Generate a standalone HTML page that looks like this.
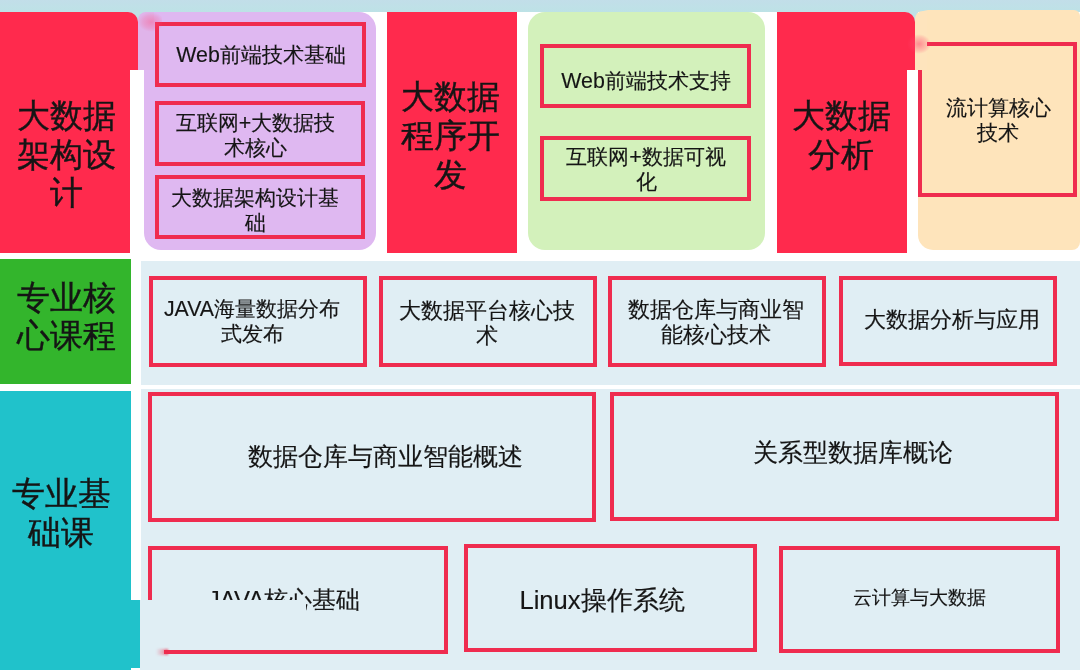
<!DOCTYPE html>
<html><head><meta charset="utf-8">
<style>
html,body{margin:0;padding:0;}
body{width:1080px;height:670px;position:relative;overflow:hidden;background:#ffffff;font-family:"Liberation Sans",sans-serif;color:#151515;}
.a{position:absolute;box-sizing:border-box;}
.red{background:#ff2a4d;}
.bx{position:absolute;box-sizing:border-box;border:4px solid #ef2c4f;}
.t{position:absolute;white-space:nowrap;text-align:center;width:400px;-webkit-text-stroke:0.15px #151515;}
.b{-webkit-text-stroke:0.4px #151515;}
</style></head><body><div id="w" style="position:absolute;left:0;top:0;width:1080px;height:670px;filter:blur(0.35px)">
<!-- top strip -->
<div class="a" style="left:0;top:0;width:1080px;height:12px;background:linear-gradient(#c2dee9,#bde2e6)"></div>

<!-- ROW 1 -->
<div class="a red" style="left:0;top:12px;width:130px;height:241px"></div>
<div class="a" style="left:144px;top:12px;width:232px;height:238px;background:#dfb8f1;border-radius:6px 17px 17px 17px"></div>
<div class="bx" style="left:155px;top:22px;width:211px;height:65px"></div>
<div class="bx" style="left:155px;top:101px;width:210px;height:65px"></div>
<div class="bx" style="left:155px;top:175px;width:210px;height:64px"></div>

<div class="a red" style="left:387px;top:12px;width:130px;height:241px"></div>
<div class="a" style="left:528px;top:12px;width:237px;height:238px;background:#d3f1bb;border-radius:17px"></div>
<div class="bx" style="left:540px;top:44px;width:211px;height:64px"></div>
<div class="bx" style="left:540px;top:136px;width:211px;height:65px"></div>

<div class="a red" style="left:777px;top:12px;width:130px;height:241px"></div>
<div class="a" style="left:918px;top:10px;width:162px;height:240px;background:#fee4bb;border-radius:10px 6px 8px 15px"></div>
<div class="bx" style="left:918px;top:42px;width:159px;height:155px"></div>

<!-- ROW 2 -->
<div class="a" style="left:0;top:259px;width:131px;height:125px;background:#33b52c"></div>
<div class="a" style="left:141px;top:261px;width:939px;height:124px;background:#e0eef4"></div>
<div class="bx" style="left:149px;top:276px;width:218px;height:91px"></div>
<div class="bx" style="left:379px;top:276px;width:218px;height:91px"></div>
<div class="bx" style="left:608px;top:276px;width:218px;height:91px"></div>
<div class="bx" style="left:839px;top:276px;width:218px;height:90px"></div>

<!-- ROW 3 -->
<div class="a" style="left:0;top:391px;width:131px;height:279px;background:#20c2cb"></div>
<div class="a" style="left:141px;top:389px;width:939px;height:281px;background:#e0eef4"></div>
<div class="bx" style="left:148px;top:392px;width:448px;height:130px"></div>
<div class="bx" style="left:610px;top:392px;width:449px;height:129px"></div>
<div class="bx" style="left:148px;top:546px;width:300px;height:108px"></div>
<div class="bx" style="left:464px;top:544px;width:293px;height:108px"></div>
<div class="bx" style="left:779px;top:546px;width:281px;height:107px"></div>

<!-- TEXT -->
<div class="t b" style="left:-134px;top:97px;font-size:32.5px;line-height:38.5px">大数据<br>架构设<br>计</div>
<div class="t" style="left:61px;top:43px;font-size:21.4px;line-height:25px">Web前端技术基础</div>
<div class="t" style="left:55.5px;top:110.5px;font-size:21.4px;line-height:25px">互联网+大数据技<br>术核心</div>
<div class="t" style="left:55px;top:186px;font-size:21.4px;line-height:25px">大数据架构设计基<br>础</div>

<div class="t b" style="left:250px;top:78px;font-size:32.5px;line-height:39px">大数据<br>程序开<br>发</div>
<div class="t" style="left:446px;top:68.5px;font-size:21.4px;line-height:25px">Web前端技术支持</div>
<div class="t" style="left:446px;top:144.5px;font-size:21.4px;line-height:25px">互联网+数据可视<br>化</div>

<div class="t b" style="left:641px;top:97px;font-size:32.5px;line-height:39px">大数据<br>分析</div>
<div class="t" style="left:798px;top:96px;font-size:21.4px;line-height:25px">流计算核心<br>技术</div>

<div class="t b" style="left:-133.5px;top:278.5px;font-size:32.5px;line-height:38.5px">专业核<br>心课程</div>
<div class="t" style="left:52px;top:297px;font-size:21.3px;line-height:25px">JAVA海量数据分布<br>式发布</div>
<div class="t" style="left:287px;top:297.5px;font-size:21.6px;line-height:25px">大数据平台核心技<br>术</div>
<div class="t" style="left:516px;top:297px;font-size:21.6px;line-height:25px">数据仓库与商业智<br>能核心技术</div>
<div class="t" style="left:752px;top:307px;font-size:21.6px;line-height:25px">大数据分析与应用</div>

<div class="t b" style="left:-139px;top:475px;font-size:32.5px;line-height:38.5px">专业基<br>础课</div>
<div class="t" style="left:185px;top:441px;font-size:25.2px;line-height:30px">数据仓库与商业智能概述</div>
<div class="t" style="left:653px;top:437px;font-size:25.4px;line-height:30px">关系型数据库概论</div>
<div class="t" style="left:84px;top:585px;font-size:24px;line-height:30px">JAVA核心基础</div>
<div class="t" style="left:402px;top:585px;font-size:25.6px;line-height:30px">Linux操作系统</div>
<div class="t" style="left:719px;top:585.5px;font-size:18.5px;line-height:24px">云计算与大数据</div>

<!-- watermark-removal artifacts -->
<div class="a" style="left:125px;top:10px;width:25px;height:14px;background:#bfe0e6"></div>
<div class="a" style="left:905px;top:10px;width:13px;height:14px;background:#bfe0e6"></div>
<div class="a red" style="left:0;top:12px;width:138px;height:58px;border-top-right-radius:10px"></div>
<div class="a" style="left:138px;top:12px;width:16px;height:58px;background:#e0b4ea;border-top-left-radius:8px"></div>
<div class="a" style="left:138px;top:12px;width:24px;height:20px;background:radial-gradient(ellipse at 55% 50%, rgba(255,70,120,0.4) 0%, rgba(255,70,120,0.18) 45%, rgba(255,70,120,0) 70%)"></div>
<div class="a red" style="left:777px;top:12px;width:138px;height:58px;border-top-right-radius:10px"></div>
<div class="a" style="left:915px;top:11px;width:12px;height:59px;background:#fee4bd;border-top-left-radius:8px"></div>
<div class="a" style="left:907px;top:34px;width:24px;height:20px;background:radial-gradient(ellipse at center, rgba(255,70,110,0.55) 0%, rgba(255,70,110,0.2) 50%, rgba(255,70,110,0) 70%)"></div>
<div class="a" style="left:131px;top:600px;width:10px;height:68px;background:#20c2cb"></div>
<div class="a" style="left:140px;top:600px;width:166px;height:40px;background:#e0eef4"></div>
<div class="a" style="left:140px;top:600px;width:24px;height:70px;background:#e0eef4"></div>
<div class="a" style="left:156px;top:649px;width:12px;height:6px;background:linear-gradient(to right, rgba(236,44,76,0) 0%, rgba(236,44,76,0.35) 60%, rgba(236,44,76,0.8) 100%);filter:blur(1px)"></div>
</div></body></html>
